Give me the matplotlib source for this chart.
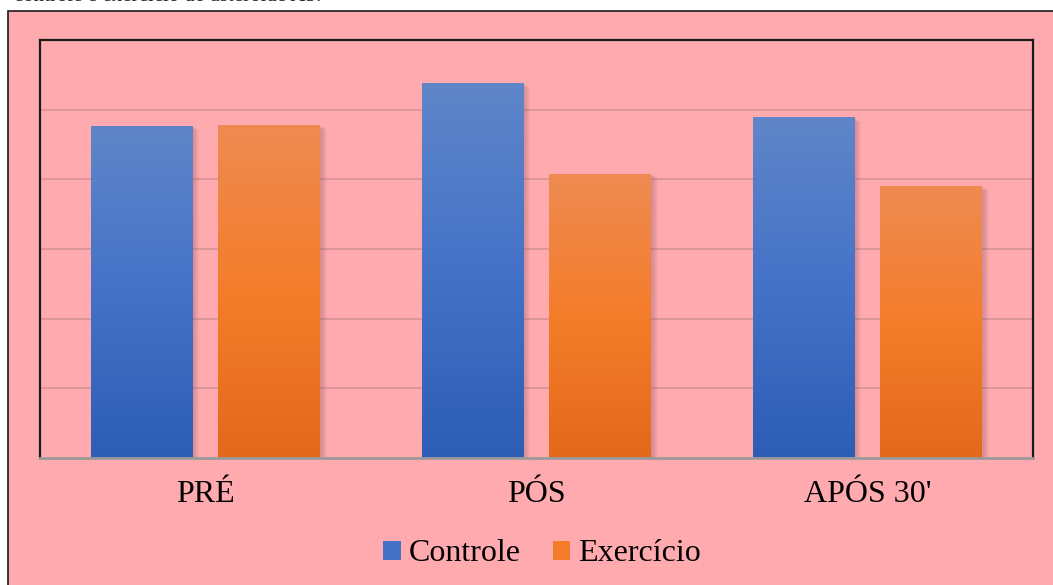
import matplotlib.pyplot as plt
import numpy as np
from matplotlib.colors import LinearSegmentedColormap
from matplotlib.patches import Patch, Rectangle

momentos = ['PRÉ', 'PÓS', "APÓS 30'"]
controle = [4.77, 5.38, 4.89]
exercicio = [4.78, 4.08, 3.90]
series = ['Controle', 'Exercício']

FUNDO = '#ffaaaf'
GRADE = '#d9949a'
AZUL = ['#2d5db4', '#4472c7', '#6086c9']
LARANJA = ['#e2691a', '#f47d2b', '#ee8b52']
LARGURA = 0.308
DESLOC = 0.193


def barra_degrade(ax, barra, cores):
    # preenche a barra com um degradê vertical e uma sombra suave à direita
    x, y = barra.get_x(), barra.get_y()
    w, h = barra.get_width(), barra.get_height()
    for k in range(6):
        d = 0.004 + k * 0.003
        ax.add_patch(Rectangle((x + d, y), w, h - d * 3, facecolor='#7a4a55',
                               alpha=0.05, edgecolor='none', zorder=1.5))
    cmap = LinearSegmentedColormap.from_list('g', cores)
    grad = np.linspace(0, 1, 256).reshape(-1, 1)
    img = ax.imshow(grad, cmap=cmap, aspect='auto', origin='lower',
                    extent=(x, x + w, y, y + h), zorder=2)
    img.set_clip_path(barra)
    barra.set_facecolor('none')


def main():
    plt.rcParams['font.family'] = ['Liberation Serif', 'DejaVu Serif']
    fig = plt.figure(figsize=(10.53, 5.85), dpi=100, facecolor='white')

    # moldura rosa do gráfico
    moldura = Rectangle((8 / 1053, -0.05), 1.1, 1 - 11 / 585 + 0.05,
                        transform=fig.transFigure, facecolor=FUNDO,
                        edgecolor='#1a1a1a', linewidth=1.2, zorder=-1)
    fig.patches.append(moldura)
    fig.text(14 / 1053, 1 - 1 / 585, 'controle e exercício do asteroide A5.',
             fontsize=15, va='baseline', ha='left', color='#222222')

    ax = fig.add_axes([40 / 1053, 1 - 458 / 585, 993 / 1053, 418 / 585])
    ax.set_facecolor(FUNDO)
    x = np.arange(len(momentos))

    b1 = ax.bar(x - DESLOC, controle, LARGURA, zorder=2, edgecolor='none')
    b2 = ax.bar(x + DESLOC, exercicio, LARGURA, zorder=2, edgecolor='none')
    for barra in b1:
        barra_degrade(ax, barra, AZUL)
    for barra in b2:
        barra_degrade(ax, barra, LARANJA)

    ax.set_xlim(-0.5, 2.5)
    ax.set_ylim(0, 6)
    ax.set_yticks([1, 2, 3, 4, 5])
    ax.yaxis.grid(True, color=GRADE, linewidth=1.3, zorder=1)
    ax.set_axisbelow(True)
    ax.tick_params(axis='y', left=False, labelleft=False)
    ax.set_xticks(x)
    ax.set_xticklabels(momentos, fontsize=23)
    ax.tick_params(axis='x', length=0, pad=16)

    for lado in ['left', 'top', 'right']:
        ax.spines[lado].set_color('#1a1a1a')
        ax.spines[lado].set_linewidth(1.6)
    ax.spines['bottom'].set_color('#9a9a9a')
    ax.spines['bottom'].set_linewidth(2)

    alcas = [Patch(facecolor=AZUL[1], edgecolor='none'),
             Patch(facecolor=LARANJA[1], edgecolor='none')]
    fig.legend(alcas, series, loc='center', bbox_to_anchor=(0.515, 0.053),
               ncol=2, frameon=False, fontsize=23, handlelength=0.55,
               handleheight=0.55, handletextpad=0.25, columnspacing=1.0)

    fig.savefig('out.png', dpi=100, facecolor='white')


if __name__ == "__main__":
    main()
